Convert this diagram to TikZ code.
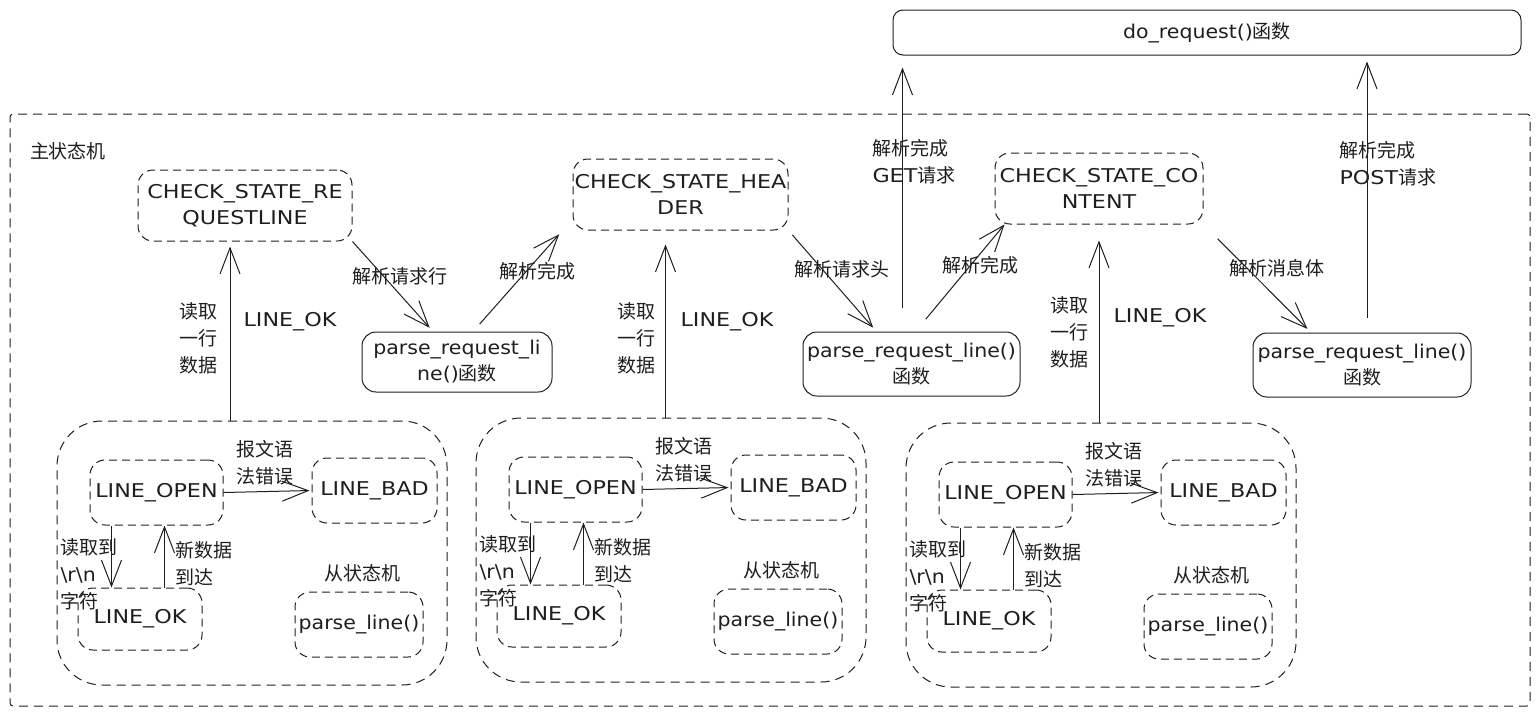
\documentclass[tikz,border=0pt]{standalone}
\usepackage{fontspec}
\newfontfamily\cjk{Noto Sans CJK SC}
\newfontfamily\handcaps[FakeStretch=1.17]{DejaVu Sans}
\newfontfamily\handlow[FakeStretch=1.08]{DejaVu Sans}
\newcommand\hwc[1]{{\handcaps\fontsize{19}{27}\selectfont #1}}
\newcommand\hwl[1]{{\handlow\fontsize{19}{27}\selectfont #1}}
\usetikzlibrary{arrows.meta}
\definecolor{inkgray}{RGB}{30, 30, 30}

\begin{document}
\begin{tikzpicture}[x=1pt, y=-1pt, line width=1pt, inkgray,
    every node/.style={font=\cjk\fontsize{19}{27}\selectfont, inner sep=0pt},
    state/.style={draw, dash pattern=on 8pt off 5pt, rounded corners=15pt, align=center},
    func/.style={draw, rounded corners=14pt, align=center},
    submachine/.style={draw, dash pattern=on 9pt off 6pt, rounded corners=45pt},
    lbl/.style={align=left, anchor=west},
    arr/.style={-{Straight Barb[length=26pt, width=20pt]}, line width=1pt, shorten >=5pt}]
    \useasboundingbox (0,0) rectangle (1540,716);

    % main state machine frame
    \node[draw, dash pattern=on 9pt off 6pt, rounded corners=3pt, minimum width=1520pt, minimum height=592pt] (mainfsm) at (770,410) {};
    \node (mainlbl) at (68,151) {主状态机};

    \node[func, rounded corners=10pt, minimum width=628pt, minimum height=45pt] (doreq) at (1207,32.5) {\hwl{do\_request()}函数};

    \node[state, minimum width=214pt, minimum height=71pt] (reqline) at (245,205.5) {\hwc{CHECK\_STATE\_RE}\\[-1pt]\hwc{QUESTLINE}};
    \node[state, minimum width=215pt, minimum height=71pt] (header) at (680.5,194.5) {\hwc{CHECK\_STATE\_HEA}\\[-1pt]\hwc{DER}};
    \node[state, minimum width=208pt, minimum height=71pt] (content) at (1099,188.5) {\hwc{CHECK\_STATE\_CO}\\[-1pt]\hwc{NTENT}};

    \node[func, minimum width=190pt, minimum height=60pt] (parse1) at (457,362) {\hwl{parse\_request\_li}\\[-1pt]\hwl{ne()}函数};
    \node[func, minimum width=217pt, minimum height=64pt] (parse2) at (911.5,364) {\hwl{parse\_request\_line()}\\[-1pt]函数};
    \node[func, minimum width=218pt, minimum height=64pt] (parse3) at (1362,365) {\hwl{parse\_request\_line()}\\[-1pt]函数};

    % slave state machines
    \foreach \i/\dx/\dy in {1/0/0, 2/419/-3, 3/849/2} {
        \begin{scope}[shift={(\dx,\dy)}]
            \node[submachine, minimum width=390pt, minimum height=264pt] (sub\i) at (252,553) {};
            \node[state, minimum width=133pt, minimum height=65pt] (open\i) at (156.5,492.5) {\hwc{LINE\_OPEN}};
            \node[state, minimum width=125pt, minimum height=65pt] (bad\i) at (374.5,490.5) {\hwc{LINE\_BAD}};
            \node[state, minimum width=124pt, minimum height=62pt] (ok\i) at (140,619) {\hwc{LINE\_OK}};
            \node[state, minimum width=128pt, minimum height=65pt] (pline\i) at (359,624.5) {\hwl{parse\_line()}};
            \node (slave\i) at (362,573) {从状态机};
            \node[lbl] (err\i) at (236,463) {报文语\\法错误};
            \node[lbl] (crlf\i) at (60,574) {读取到\\\hwl{\textbackslash r\textbackslash n}\\字符};
            \node[lbl] (newdata\i) at (175,564) {新数据\\到达};
            \draw[arr, shorten >=2pt] (open\i.east) -- (bad\i.west);
            \draw[arr, shorten >=0pt] ([xshift=-45pt]open\i.south) -- ([xshift=-45pt]open\i.south |- ok\i.north);
            \draw[arr, shorten >=0pt] ([xshift=8pt]open\i.south |- ok\i.north) -- ([xshift=8pt]open\i.south);
        \end{scope}
    }

    % sub machines feed the main states
    \draw[arr] ([xshift=-15pt]reqline.south |- sub1.north) -- ([xshift=-15pt]reqline.south);
    \node[align=center] (readlbl1) at (198,338) {读取\\一行\\数据};
    \node (oklbl1) at (290,322) {\hwc{LINE\_OK}};
    \draw[arr, shorten >=14pt] ([xshift=-15pt]header.south |- sub2.north) -- ([xshift=-15pt]header.south);
    \node[align=center] (readlbl2) at (636,338) {读取\\一行\\数据};
    \node (oklbl2) at (727,322) {\hwc{LINE\_OK}};
    \draw[arr, shorten >=16pt] (content.south |- sub3.north) -- (content.south);
    \node[align=center] (readlbl3) at (1069,332) {读取\\一行\\数据};
    \node (oklbl3) at (1160,318) {\hwc{LINE\_OK}};

    % main transitions
    \draw[arr] (reqline.south east) -- ([xshift=-24pt]parse1.north);
    \node (lbl-reqline) at (400,276) {解析请求行};
    \draw[arr, shorten <=10pt] ([xshift=16pt]parse1.north) -- ([xshift=-10pt]header.south west);
    \node (lbl-done1) at (537,271) {解析完成};
    \draw[arr, shorten <=6pt] (header.south east) -- ([xshift=-35pt]parse2.north);
    \node (lbl-header) at (842,269) {解析请求头};
    \draw[arr, shorten <=16pt, shorten >=0pt] ([xshift=4pt]parse2.north) -- ([xshift=10pt]content.south west);
    \node (lbl-done2) at (980,265) {解析完成};
    \draw[arr, shorten <=24pt, shorten >=12pt] ([xshift=-9pt]parse2.north) -- ([xshift=-9pt]parse2.north |- doreq.south);
    \node[lbl] (lbl-get) at (872,162) {解析完成\\\hwc{GET}请求};
    \draw[arr, shorten <=20pt] (content.south east) -- ([xshift=-51pt]parse3.north);
    \node (lbl-body) at (1277,268) {解析消息体};
    \draw[arr, shorten <=15pt, shorten >=6pt] ([xshift=5pt]parse3.north) -- ([xshift=5pt]parse3.north |- doreq.south);
    \node[lbl] (lbl-post) at (1339,164) {解析完成\\\hwc{POST}请求};
\end{tikzpicture}
\end{document}
